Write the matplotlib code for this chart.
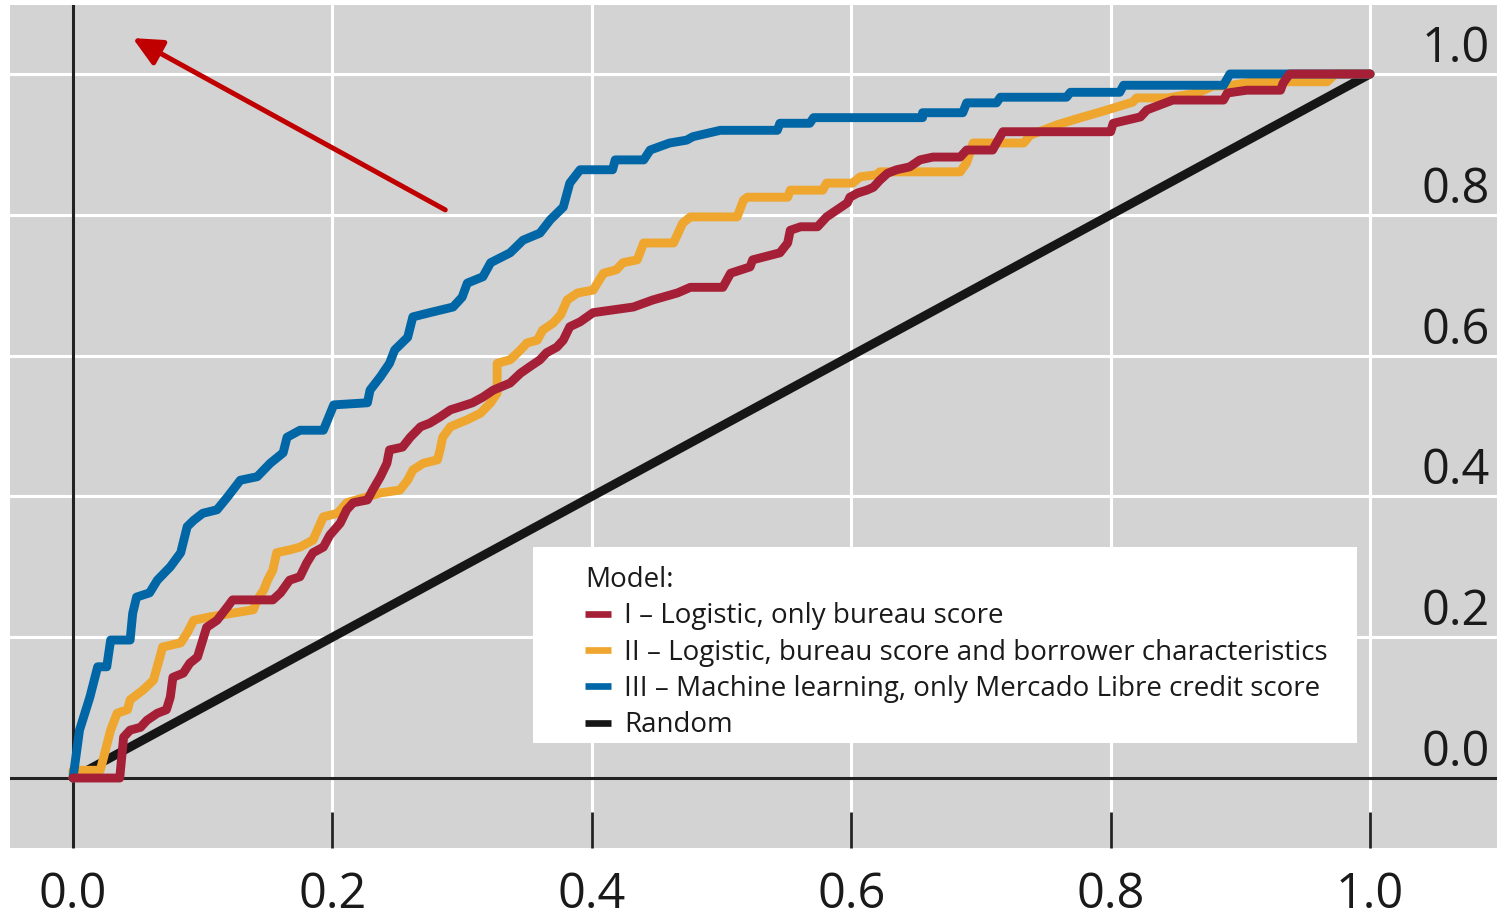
import matplotlib.pyplot as plt
from matplotlib.patches import Rectangle

plt.rcParams['font.family'] = ['Open Sans', 'DejaVu Sans']

# ROC curves (false positive rate, true positive rate)
fpr_ml = [0, .005, .013, .019, .026, .029, .044, .046, .049, .059, .065, .075, .083, .088, .093,
          .100, .111, .119, .129, .142, .152, .162, .165, .175, .193, .201, .227, .229, .237, .244,
          .248, .258, .262, .275, .293, .300, .304, .316, .322, .337, .347, .360, .368, .378, .383,
          .391, .416, .418, .440, .445, .460, .473, .478, .499, .543, .545, .568, .571, .655, .655,
          .686, .689, .712, .715, .766, .769, .807, .810, .887, .892, 1.0]
tpr_ml = [0, .068, .115, .158, .158, .196, .196, .234, .257, .263, .281, .300, .320, .357, .366,
          .376, .381, .399, .423, .428, .447, .462, .484, .494, .494, .530, .533, .551, .570, .589,
          .608, .626, .655, .661, .669, .683, .703, .712, .732, .746, .764, .774, .793, .811, .845,
          .864, .864, .878, .878, .892, .902, .906, .911, .920, .920, .930, .930, .938, .938, .945,
          .945, .959, .959, .967, .967, .974, .974, .984, .984, 1.0, 1.0]

fpr_log2 = [0, 0, .021, .029, .034, .042, .044, .054, .062, .067, .069, .083, .088, .093, .106,
            .139, .142, .147, .150, .154, .157, .167, .175, .185, .193, .204, .211, .237, .252, .258,
            .262, .270, .281, .283, .285, .291, .304, .314, .322, .327, .327, .337, .345, .350, .358,
            .362, .370, .376, .381, .389, .401, .409, .419, .424, .435, .440, .463, .470, .476, .512,
            .517, .520, .551, .553, .578, .581, .601, .607, .620, .622, .684, .689, .694, .733, .738,
            .759, .776, .792, .817, .820, .844, .867, .879, .890, .910, .967, .973, 1.0]
tpr_log2 = [0, .011, .011, .068, .092, .097, .111, .125, .139, .172, .186, .192, .206, .224, .229,
            .239, .253, .267, .281, .295, .320, .324, .328, .338, .371, .376, .391, .405, .409, .423,
            .4375, .447, .452, .466, .484, .499, .509, .518, .533, .547, .589, .594, .608, .618, .622,
            .636, .646, .658, .679, .689, .693, .717, .722, .732, .736, .760, .760, .788, .797, .797,
            .821, .825, .825, .835, .835, .845, .845, .854, .857, .861, .861, .874, .902, .902, .913,
            .928, .9375, .946, .960, .966, .966, .973, .983, .983, .989, .989, 1.0, 1.0]

fpr_log1 = [0, .036, .039, .044, .052, .057, .065, .072, .075, .077, .085, .090, .096, .100, .103,
            .111, .119, .123, .154, .160, .167, .175, .180, .185, .193, .198, .206, .211, .216, .227,
            .231, .237, .242, .244, .254, .260, .268, .275, .283, .291, .298, .308, .316, .324, .337,
            .345, .352, .360, .365, .373, .378, .383, .391, .401, .432, .447, .466, .476, .501, .507,
            .522, .524, .545, .551, .553, .561, .574, .581, .589, .597, .599, .605, .612, .617, .622,
            .628, .635, .645, .653, .663, .684, .689, .709, .712, .717, .800, .802, .823, .828, .848,
            .887, .890, .905, .931, .933, .938, 1.0]
tpr_log1 = [0, 0, .058, .068, .072, .082, .092, .097, .115, .143, .149, .163, .172, .196, .214,
            .224, .243, .253, .253, .263, .281, .286, .305, .320, .328, .345, .362, .381, .391, .395,
            .409, .428, .447, .466, .470, .484, .499, .504, .513, .523, .527, .533, .541, .551, .561,
            .575, .584, .594, .604, .612, .622, .641, .648, .661, .669, .679, .689, .697, .697, .717,
            .726, .736, .746, .760, .778, .783, .783, .797, .807, .817, .825, .831, .835, .839, .849,
            .859, .864, .868, .878, .882, .882, .892, .892, .902, .918, .918, .930, .939, .949, .963,
            .963, .973, .977, .977, .987, 1.0, 1.0]

rand_x = [0, 1]
rand_y = [0, 1]

labels = ['I \u2013 Logistic, only bureau score',
          'II \u2013 Logistic, bureau score and borrower characteristics',
          'III \u2013 Machine learning, only Mercado Libre credit score',
          'Random']
colors = ['#a51f36', '#eea62e', '#0066a5', '#161616']

xticks = [0.0, 0.2, 0.4, 0.6, 0.8, 1.0]
yticks = [0.0, 0.2, 0.4, 0.6, 0.8, 1.0]

W, H = 1499, 919
fig = plt.figure(figsize=(W / 100, H / 100), dpi=100)
ax = fig.add_axes([10 / W, 71 / H, 1487 / W, 843 / H])
ax.set_facecolor('#d3d3d3')
ax.set_xlim(-0.0486, 1.0979)
ax.set_ylim(-0.0994, 1.098)
for s in ax.spines.values():
    s.set_visible(False)

ax.set_xticks(xticks)
ax.set_xticklabels([f'{t:.1f}' for t in xticks])
ax.set_yticks(yticks)
ax.tick_params(axis='x', direction='in', length=26, width=2, color='#222222',
               pad=16, labelsize=35, labelcolor='#1a1a1a')
ax.tick_params(axis='y', length=0, labelleft=False)
ax.grid(True, color='white', lw=2.2)
ax.set_axisbelow(True)
ax.axhline(0, color='#222222', lw=2.2, zorder=1.5)
ax.axvline(0, color='#222222', lw=2.2, zorder=1.5)

for t in yticks:
    ax.text(0.9953, t + 0.017, f'{t:.1f}', transform=ax.get_yaxis_transform(),
            ha='right', va='baseline', fontsize=35, color='#1a1a1a')

kw = dict(lw=6.4, solid_capstyle='round', solid_joinstyle='round')
h_rand, = ax.plot(rand_x, rand_y, color=colors[3], zorder=2, **kw)
h2, = ax.plot(fpr_log2, tpr_log2, color=colors[1], zorder=3, **kw)
h3, = ax.plot(fpr_ml, tpr_ml, color=colors[2], zorder=3.2, **kw)
h1, = ax.plot(fpr_log1, tpr_log1, color=colors[0], zorder=3.4, **kw)

ax.annotate('', xy=(0.046, 1.051), xytext=(0.287, 0.807),
            arrowprops=dict(arrowstyle='-|>,head_length=0.8,head_width=0.38',
                            color='#c00000', lw=3.6, mutation_scale=22,
                            shrinkA=0, shrinkB=0))

# legend box
fig.patches.append(Rectangle((533 / W, (H - 743) / H), 824 / W, 196 / H,
                             transform=fig.transFigure, facecolor='white',
                             edgecolor='none', zorder=4))
leg = fig.legend([h1, h2, h3, h_rand], labels, title='Model:', loc='upper left',
                 bbox_to_anchor=(585 / W, (H - 566) / H), frameon=False,
                 fontsize=20, title_fontsize=20, alignment='left',
                 handlelength=0.95, handletextpad=0.45, labelspacing=0.3,
                 borderpad=0, borderaxespad=0)
for line in leg.get_lines():
    line.set_linewidth(4.8)
    line.set_solid_capstyle('butt')
for txt in leg.get_texts():
    txt.set_color('#1a1a1a')
leg.get_title().set_color('#1a1a1a')
leg.set_zorder(5)

fig.savefig('out.png', dpi=100, facecolor='white')
